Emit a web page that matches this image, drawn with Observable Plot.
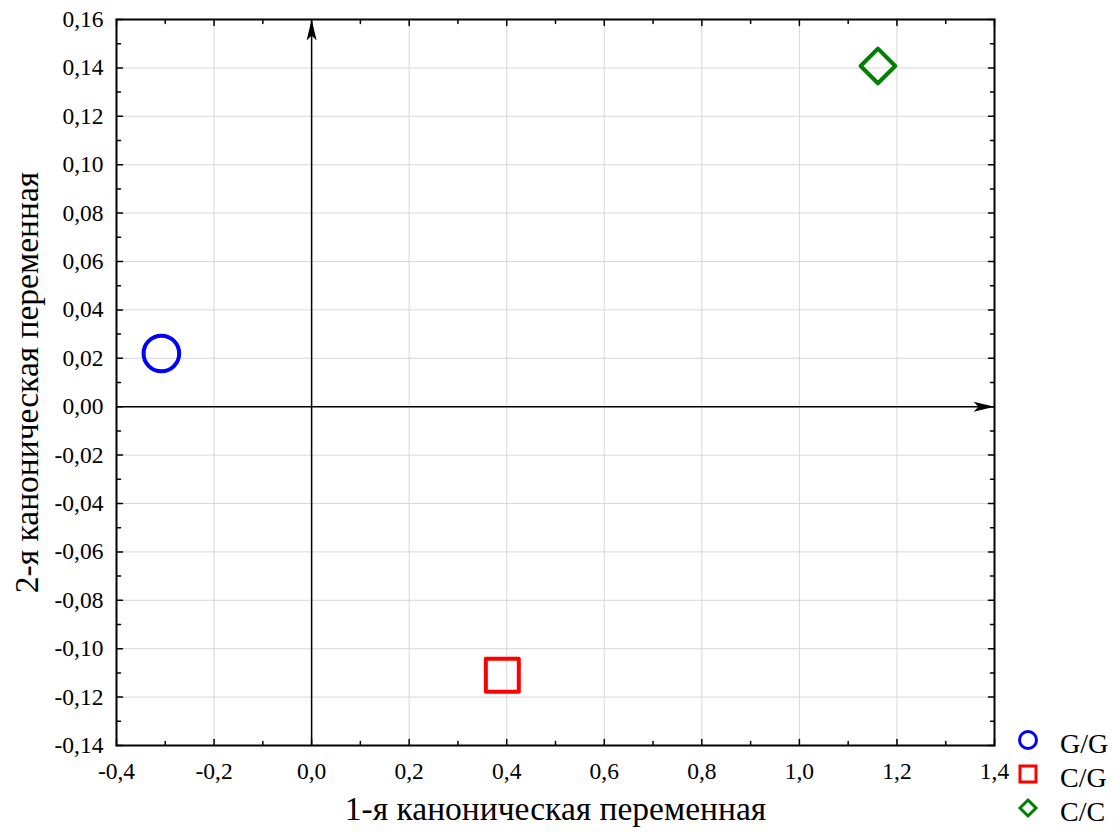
<!DOCTYPE html>
<html>
<head>
<meta charset="utf-8">
<script src="https://cdn.jsdelivr.net/npm/d3@7"></script>
<script src="https://cdn.jsdelivr.net/npm/@observablehq/plot@0.6"></script>
<style>
  body { margin: 0; background: #fff; }
  #chart { position: relative; width: 1120px; height: 836px; font-family: "Liberation Serif", "Times New Roman", serif; }
  #chart svg, #chart svg text { font-family: "Liberation Serif", "Times New Roman", serif !important; }
  #chart svg g[aria-label="x-axis tick label"],
  #chart svg g[aria-label="y-axis tick label"] { font-size: 23.5px !important; }
  #legend { position: absolute; left: 1016px; top: 723px; }
  .row { display: flex; align-items: center; height: 34px; }
  .row svg { width: 24px; height: 24px; margin-right: 20px; }
  .row span { font-size: 28px; color: #000; line-height: 34px; position: relative; top: 4px; }
</style>
</head>
<body>
<div id="chart"><div id="legend"></div></div>
<script>
// Group centroids on the first two canonical variables
const groups = ["G/G", "C/G", "C/C"];
const root1 = [-0.308, 0.391, 1.161];
const root2 = [0.022, -0.111, 0.1408];
const groupColors = ["#0000ff", "#ff0000", "#008000"];
const groupSymbols = ["circle", "square", "diamond2"];

// Axes
const xDomain = [-0.4, 1.4];
const yDomain = [-0.14, 0.16];
const xMajor = [-0.4, -0.2, 0, 0.2, 0.4, 0.6, 0.8, 1.0, 1.2, 1.4];
const xMinor = [-0.3, -0.1, 0.1, 0.3, 0.5, 0.7, 0.9, 1.1, 1.3];
const yMajor = [-0.14, -0.12, -0.10, -0.08, -0.06, -0.04, -0.02, 0, 0.02, 0.04, 0.06, 0.08, 0.10, 0.12, 0.14, 0.16];
const yMinor = [-0.13, -0.11, -0.09, -0.07, -0.05, -0.03, -0.01, 0.01, 0.03, 0.05, 0.07, 0.09, 0.11, 0.13, 0.15];
const xTitle = "1-я каноническая переменная";
const yTitle = "2-я каноническая переменная";

const points = groups.map((g, i) => ({group: g, x: root1[i], y: root2[i]}));

const comma = (d, n) => (Math.abs(d) < 1e-9 ? 0 : d).toFixed(n).replace(".", ",");

// short tick drawn from the anchor point inward
const tickShape = {draw(context, l) { context.moveTo(0, 0); context.lineTo(0, -l); }};
// filled barbed arrowhead, tip at the anchor point, pointing up
const arrowHead = {draw(context) {
  context.moveTo(0, 0);
  context.lineTo(-5, 21);
  context.lineTo(0, 16);
  context.lineTo(5, 21);
  context.closePath();
}};

const markerR = {circle: 17.8, square: 18.6, diamond2: 15.6};

function innerTicks(values, len) {
  return [
    Plot.vector(values, {x: d => d, y: yDomain[0], length: len, rotate: 0, anchor: "start", shape: tickShape, stroke: "black", strokeWidth: 1.5}),
    Plot.vector(values, {x: d => d, y: yDomain[1], length: len, rotate: 180, anchor: "start", shape: tickShape, stroke: "black", strokeWidth: 1.5})
  ];
}
function innerTicksY(values, len) {
  return [
    Plot.vector(values, {y: d => d, x: xDomain[0], length: len, rotate: 90, anchor: "start", shape: tickShape, stroke: "black", strokeWidth: 1.5}),
    Plot.vector(values, {y: d => d, x: xDomain[1], length: len, rotate: -90, anchor: "start", shape: tickShape, stroke: "black", strokeWidth: 1.5})
  ];
}

const chart = Plot.plot({
  width: 1120,
  height: 836,
  marginLeft: 116,
  marginRight: 126,
  marginTop: 19,
  marginBottom: 91,
  style: {fontFamily: "'Liberation Serif', 'Times New Roman', serif", fontSize: "23.5px", color: "#000", background: "#fff", overflow: "visible"},
  x: {domain: xDomain},
  y: {domain: yDomain},
  marks: [
    Plot.gridX(xMajor, {stroke: "#d8d8d8", strokeOpacity: 1, strokeWidth: 1}),
    Plot.gridY(yMajor, {stroke: "#d8d8d8", strokeOpacity: 1, strokeWidth: 1}),
    Plot.axisX(xMajor, {tickSize: 0, tickPadding: 17, tickFormat: d => comma(d, 1), fontSize: 23.5, label: null}),
    Plot.axisY(yMajor, {tickSize: 0, tickPadding: 13, tickFormat: d => comma(d, 2), fontSize: 23.5, label: null}),
    ...innerTicks(xMajor, 6), ...innerTicks(xMinor, 4),
    ...innerTicksY(yMajor, 6), ...innerTicksY(yMinor, 4),
    Plot.frame({stroke: "#000", strokeWidth: 2}),
    // zero axes with arrowheads
    Plot.ruleX([0], {y1: yDomain[0], y2: yDomain[1], stroke: "#000", strokeWidth: 1.5}),
    Plot.ruleY([0], {x1: xDomain[0], x2: xDomain[1], stroke: "#000", strokeWidth: 1.5}),
    Plot.dot([{x: 0, y: yDomain[1], a: 0}, {x: xDomain[1], y: 0, a: 90}],
      {x: "x", y: "y", rotate: "a", symbol: arrowHead, fill: "#000", stroke: "none"}),
    // group centroids
    ...groups.map((g, i) => Plot.dot(points.filter(d => d.group === g), {
      x: "x", y: "y", symbol: groupSymbols[i], r: markerR[groupSymbols[i]],
      stroke: groupColors[i], strokeWidth: 4, fill: "none", strokeLinejoin: "round"
    })),
    // axis titles
    Plot.text([xTitle], {frameAnchor: "bottom", dy: 74, fontSize: 33.5, textAnchor: "middle", text: d => d}),
    Plot.text([yTitle], {frameAnchor: "left", dx: -89, rotate: -90, fontSize: 33.5, textAnchor: "middle", text: d => d})
  ]
});

const host = document.getElementById("chart");
host.insertBefore(chart, host.firstChild);

// legend: one row per group with its marker
const legendSizes = {circle: 227, square: 256, diamond2: 163};
const symbolTypes = {circle: d3.symbolCircle, square: d3.symbolSquare, diamond2: d3.symbolDiamond2};
const legend = d3.select("#legend");
groups.forEach((g, i) => {
  const row = legend.append("div").attr("class", "row");
  const svg = row.append("svg").attr("viewBox", "-12 -12 24 24");
  svg.append("path")
    .attr("d", d3.symbol(symbolTypes[groupSymbols[i]], legendSizes[groupSymbols[i]])())
    .attr("fill", "none")
    .attr("stroke", groupColors[i])
    .attr("stroke-width", 3);
  row.append("span").text(g);
});
</script>
</body>
</html>
